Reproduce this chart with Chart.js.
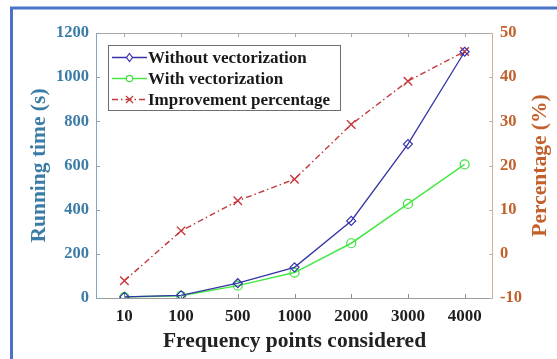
<!DOCTYPE html>
<html>
<head>
<meta charset="utf-8">
<script src="https://cdn.jsdelivr.net/npm/chart.js@4.4.1/dist/chart.umd.min.js"></script>
<style>
  html, body { margin: 0; padding: 0; background: #ffffff; }
  #wrap { position: relative; width: 557px; height: 359px; }
</style>
</head>
<body>
<div id="wrap"><canvas id="c" width="557" height="359"></canvas></div>
<script>
// Frequency points (x categories)
const categories = ['10', '100', '500', '1000', '2000', '3000', '4000'];
// Running time in seconds
const withoutVectorization = [5, 12, 67, 139, 349, 697, 1115];
const withVectorization = [4, 10, 56, 115, 248, 426, 605];
// Improvement in percent (right axis)
const improvementPercentage = [-6.1, 5.2, 12.0, 16.9, 29.3, 39.1, 45.8];

const seriesLabels = ['Without vectorization', 'With vectorization', 'Improvement percentage'];
const rightAxisTitle = 'Percentage (%)';

const SERIF = '"Liberation Serif", "Times New Roman", serif';
const BLUE_TXT = '#3b7ca6';
const ORANGE_TXT = '#c25f2b';

// Blue outer frame (top and left edges)
const framePlugin = {
  id: 'frame',
  beforeDraw(chart) {
    const ctx = chart.ctx;
    ctx.save();
    ctx.fillStyle = '#ffffff';
    ctx.fillRect(0, 0, chart.width, chart.height);
    ctx.strokeStyle = '#4a72c8';
    ctx.lineWidth = 3;
    ctx.beginPath();
    ctx.moveTo(11.5, chart.height);
    ctx.lineTo(11.5, 8);
    ctx.lineTo(chart.width, 8);
    ctx.stroke();
    ctx.restore();
  }
};

// Box around plot area with inward tick marks, plus the right-hand axis title
const boxPlugin = {
  id: 'box',
  afterDatasetsDraw(chart) {
    const {ctx, chartArea: a, scales} = chart;
    ctx.save();
    ctx.lineWidth = 1;
    const L = 4;
    // top edge
    ctx.strokeStyle = '#a8a8a8';
    ctx.beginPath();
    ctx.moveTo(a.left, a.top + 0.5); ctx.lineTo(a.right, a.top + 0.5);
    ctx.stroke();
    // bottom edge
    ctx.strokeStyle = '#9a9a9a';
    ctx.beginPath();
    ctx.moveTo(a.left, a.bottom + 0.5); ctx.lineTo(a.right, a.bottom + 0.5);
    ctx.stroke();
    // category ticks top & bottom
    categories.forEach((c, i) => {
      const x = Math.round(scales.x.getPixelForValue(i)) + 0.5;
      ctx.strokeStyle = '#a8a8a8';
      ctx.beginPath(); ctx.moveTo(x, a.top); ctx.lineTo(x, a.top + L); ctx.stroke();
      ctx.strokeStyle = '#8a8a8a';
      ctx.beginPath(); ctx.moveTo(x, a.bottom); ctx.lineTo(x, a.bottom - L); ctx.stroke();
    });
    // left edge
    ctx.strokeStyle = '#86a6b8';
    ctx.beginPath();
    ctx.moveTo(a.left + 0.5, a.top); ctx.lineTo(a.left + 0.5, a.bottom + 1);
    ctx.stroke();
    scales.y.ticks.forEach(t => {
      const y = Math.round(scales.y.getPixelForValue(t.value)) + 0.5;
      ctx.beginPath(); ctx.moveTo(a.left, y); ctx.lineTo(a.left + L, y); ctx.stroke();
    });
    // right edge
    ctx.strokeStyle = '#c9b09c';
    ctx.beginPath();
    ctx.moveTo(a.right - 0.5, a.top); ctx.lineTo(a.right - 0.5, a.bottom + 1);
    ctx.stroke();
    scales.y1.ticks.forEach(t => {
      const y = Math.round(scales.y1.getPixelForValue(t.value)) + 0.5;
      ctx.beginPath(); ctx.moveTo(a.right, y); ctx.lineTo(a.right - L, y); ctx.stroke();
    });
    // right axis title, reading bottom-to-top
    ctx.translate(540, (a.top + a.bottom) / 2);
    ctx.rotate(-Math.PI / 2);
    ctx.fillStyle = ORANGE_TXT;
    ctx.font = 'bold 21.5px ' + SERIF;
    ctx.textAlign = 'center';
    ctx.textBaseline = 'middle';
    ctx.fillText(rightAxisTitle, 0, 0);
    ctx.restore();
  }
};

// Legend box inside the plot, upper left
const legendBoxPlugin = {
  id: 'legendBox',
  afterDraw(chart) {
    const ctx = chart.ctx;
    const bx = 108, by = 45, bw = 232, bh = 65;
    ctx.save();
    ctx.fillStyle = '#ffffff';
    ctx.fillRect(bx, by, bw, bh);
    ctx.strokeStyle = '#6e6e6e';
    ctx.lineWidth = 1;
    ctx.strokeRect(bx + 0.5, by + 0.5, bw, bh);
    const rows = [57.5, 78.5, 99.5];
    chart.data.datasets.forEach((ds, i) => {
      const y = rows[i];
      ctx.strokeStyle = ds.borderColor;
      ctx.lineWidth = 1.3;
      ctx.setLineDash(ds.borderDash || []);
      ctx.beginPath(); ctx.moveTo(112, y); ctx.lineTo(147, y); ctx.stroke();
      ctx.setLineDash([]);
      const cx = 129.5;
      ctx.lineWidth = 1.2;
      ctx.strokeStyle = ds.pointBorderColor;
      ctx.beginPath();
      if (ds.pointStyle === 'rectRot') {
        ctx.moveTo(cx, y - 4); ctx.lineTo(cx + 3, y); ctx.lineTo(cx, y + 4); ctx.lineTo(cx - 3, y); ctx.closePath();
        ctx.fillStyle = '#fff'; ctx.fill();
      } else if (ds.pointStyle === 'circle') {
        ctx.arc(cx, y, 3.2, 0, Math.PI * 2);
        ctx.fillStyle = '#fff'; ctx.fill();
      } else {
        ctx.moveTo(cx - 3.5, y - 3.5); ctx.lineTo(cx + 3.5, y + 3.5);
        ctx.moveTo(cx + 3.5, y - 3.5); ctx.lineTo(cx - 3.5, y + 3.5);
      }
      ctx.stroke();
      ctx.fillStyle = '#1a1a1a';
      ctx.font = 'bold 17px ' + SERIF;
      ctx.textBaseline = 'middle';
      ctx.textAlign = 'left';
      ctx.fillText(ds.label, 148, y + 1);
    });
    ctx.restore();
  }
};

const plainNumber = v => String(v);

new Chart(document.getElementById('c'), {
  type: 'line',
  data: {
    labels: categories,
    datasets: [
      {
        label: seriesLabels[0],
        data: withoutVectorization,
        yAxisID: 'y',
        borderColor: '#3434a6',
        borderWidth: 1.3,
        pointStyle: 'rectRot',
        pointRadius: 4.5,
        pointBorderColor: '#3434b0',
        pointBackgroundColor: 'rgba(255,255,255,0)',
        pointBorderWidth: 1.2,
        tension: 0,
        fill: false
      },
      {
        label: seriesLabels[1],
        data: withVectorization,
        yAxisID: 'y',
        borderColor: '#46e846',
        borderWidth: 1.5,
        pointStyle: 'circle',
        pointRadius: 4.5,
        pointBorderColor: '#3ee03e',
        pointBackgroundColor: 'rgba(255,255,255,0)',
        pointBorderWidth: 1.2,
        tension: 0,
        fill: false
      },
      {
        label: seriesLabels[2],
        data: improvementPercentage,
        yAxisID: 'y1',
        borderColor: '#c23a3c',
        borderWidth: 1.4,
        borderDash: [6, 3, 1.5, 3],
        pointStyle: 'crossRot',
        pointRadius: 6,
        pointBorderColor: '#c8363a',
        pointBorderWidth: 1.4,
        tension: 0,
        fill: false
      }
    ]
  },
  options: {
    responsive: false,
    animation: false,
    devicePixelRatio: 1,
    layout: { padding: { top: 33, left: 0, right: 0, bottom: 0 } },
    plugins: {
      legend: { display: false },
      tooltip: { enabled: false }
    },
    scales: {
      x: {
        type: 'category',
        offset: true,
        grid: { display: false, drawTicks: false },
        border: { display: false },
        ticks: {
          color: '#1e1e1e',
          font: { family: SERIF, size: 17, weight: 'bold' },
          padding: 8,
          maxRotation: 0,
          autoSkip: false
        },
        title: {
          display: true,
          text: 'Frequency points considered',
          color: '#222222',
          font: { family: SERIF, size: 21.5, weight: 'bold' },
          padding: { top: 0, bottom: 5 }
        },
        afterFit(s) { s.height = 61; }
      },
      y: {
        position: 'left',
        min: 0,
        max: 1200,
        grid: { display: false, drawTicks: false },
        border: { display: false },
        ticks: {
          stepSize: 200,
          callback: plainNumber,
          color: BLUE_TXT,
          font: { family: SERIF, size: 16.5, weight: 'bold' },
          padding: 7
        },
        title: {
          display: true,
          text: 'Running time (s)',
          color: BLUE_TXT,
          font: { family: SERIF, size: 21.5, weight: 'bold' },
          padding: { top: 27, bottom: 0 }
        },
        afterFit(s) { s.width = 96; }
      },
      y1: {
        position: 'right',
        min: -10,
        max: 50,
        grid: { display: false, drawTicks: false },
        border: { display: false },
        ticks: {
          stepSize: 10,
          callback: plainNumber,
          color: ORANGE_TXT,
          font: { family: SERIF, size: 16.5, weight: 'bold' },
          padding: 7
        },
        title: { display: false },
        afterFit(s) { s.width = 64; }
      }
    }
  },
  plugins: [framePlugin, boxPlugin, legendBoxPlugin]
});
</script>
</body>
</html>
